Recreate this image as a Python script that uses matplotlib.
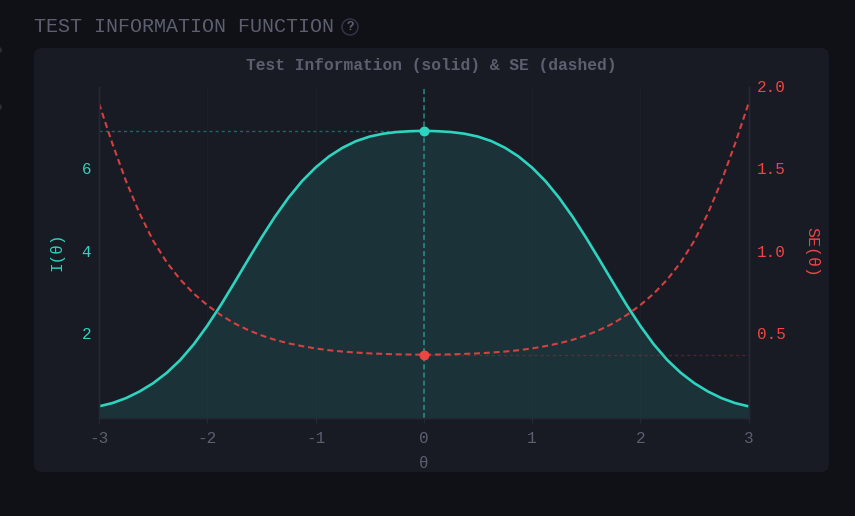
import matplotlib
matplotlib.use('Agg')
import matplotlib.pyplot as plt
from matplotlib.patches import FancyBboxPatch, Circle

W, H = 855, 516

theta = [-3, -2.875, -2.75, -2.625, -2.5, -2.375, -2.25, -2.125, -2, -1.875, -1.75, -1.625, -1.5,
         -1.375, -1.25, -1.125, -1, -0.875, -0.75, -0.625, -0.5, -0.375, -0.25, -0.125, 0,
         0.125, 0.25, 0.375, 0.5, 0.625, 0.75, 0.875, 1, 1.125, 1.25, 1.375, 1.5,
         1.625, 1.75, 1.875, 2, 2.125, 2.25, 2.375, 2.5, 2.625, 2.75, 2.875, 3]
info = [0.27, 0.35, 0.47, 0.63, 0.83, 1.08, 1.39, 1.77, 2.22, 2.72, 3.26, 3.81, 4.35,
        4.86, 5.32, 5.72, 6.05, 6.32, 6.53, 6.69, 6.80, 6.87, 6.91, 6.93, 6.94,
        6.93, 6.91, 6.87, 6.80, 6.69, 6.53, 6.32, 6.05, 5.72, 5.32, 4.86, 4.35,
        3.81, 3.26, 2.72, 2.22, 1.77, 1.39, 1.08, 0.83, 0.63, 0.47, 0.35, 0.27]
se = [1.90, 1.655, 1.43, 1.235, 1.07, 0.94, 0.835, 0.75, 0.68, 0.62, 0.57, 0.53, 0.497,
      0.47, 0.449, 0.432, 0.418, 0.407, 0.399, 0.393, 0.388, 0.385, 0.382, 0.381, 0.38,
      0.381, 0.382, 0.385, 0.388, 0.393, 0.399, 0.407, 0.418, 0.432, 0.449, 0.47, 0.497,
      0.53, 0.57, 0.62, 0.68, 0.75, 0.835, 0.94, 1.07, 1.235, 1.43, 1.655, 1.90]
peak_theta = 0
peak_info = 6.94
peak_se = 0.38
x_ticks = [-3, -2, -1, 0, 1, 2, 3]
info_ticks = [2, 4, 6]
se_ticks = [0.5, 1.0, 1.5, 2.0]

BG = '#0f1117'
CARD = '#181b24'
TEAL = '#2dd4bf'
RED = '#ef4444'
MUTED = '#5c5f6e'
AXIS = '#262934'
MONO = 'Liberation Mono'

fig = plt.figure(figsize=(W / 100, H / 100), dpi=100, facecolor=BG)

# page layer in pixel coordinates
page = fig.add_axes([0, 0, 1, 1])
page.set_xlim(0, W)
page.set_ylim(H, 0)
page.axis('off')
page.add_patch(FancyBboxPatch((42, 56), 779, 408, boxstyle='round,pad=8,rounding_size=8',
                              fc=CARD, ec='none'))
page.add_patch(Circle((-1, 50), 3, fc='#2a2d38', ec='none'))
page.add_patch(Circle((-1, 107), 3, fc='#2a2d38', ec='none'))
page.add_patch(Circle((350, 27), 8, fc='none', ec='#34374a', lw=1))
page.text(350, 27.5, '?', color=MUTED, fontsize=9, fontweight='bold', family=MONO,
          ha='center', va='center')
page.text(34, 27, 'TEST INFORMATION FUNCTION', color=MUTED, fontsize=14.45, family=MONO,
          ha='left', va='center')
page.text(431, 65.5, 'Test Information (solid) & SE (dashed)', color=MUTED, fontsize=11.7,
          fontweight='bold', family=MONO, ha='center', va='center')
page.text(57, 252, 'I(θ)', color=TEAL, fontsize=11.5, family=MONO, rotation=90,
          ha='center', va='center')
page.text(812, 252, 'SE(θ)', color=RED, fontsize=12, family=MONO, rotation=270,
          ha='center', va='center')
page.text(424, 463, 'θ', color=MUTED, fontsize=11.5, family=MONO, ha='center', va='center')

ax = fig.add_axes([99 / W, (H - 417.5) / H, 649.5 / W, 330.5 / H])
ax.patch.set_alpha(0)
ax.set_xlim(-3, 3)
ax.set_ylim(0, 8)

ax.fill_between(theta, info, 0, color=TEAL, alpha=0.13, lw=0)
ax.plot(theta, info, color=TEAL, lw=1.9, solid_capstyle='butt', solid_joinstyle='round')
ax.vlines(x_ticks[1:-1], 0, 8, color='#ffffff', alpha=0.02, lw=0.8)
ax.axvline(peak_theta, color=TEAL, alpha=0.6, lw=1.1, ls=(0, (3.3, 2)))
ax.plot([-3, peak_theta], [peak_info, peak_info], color=TEAL, alpha=0.4, lw=1, ls=(0, (2.2, 2.2)))
ax.plot(peak_theta, peak_info, 'o', color=TEAL, ms=7.2, mec='none', zorder=5)

ax.set_xticks(x_ticks)
ax.set_yticks(info_ticks)
ax.tick_params(axis='x', colors=MUTED, length=3.5, width=0.8, color=AXIS, labelsize=11.5, pad=6)
ax.tick_params(axis='y', length=0, labelsize=11.5, labelcolor=TEAL, pad=5.5)
ax.set_xticklabels([str(t) for t in x_ticks])
for label in ax.get_xticklabels() + ax.get_yticklabels():
    label.set_family(MONO)
for label in ax.get_yticklabels():
    label.set_va('center')

ax2 = ax.twinx()
ax2.set_ylim(0, 2)
ax2.plot(theta, se, color=RED, alpha=0.88, lw=1.5, ls=(0, (2.9, 1.8)))
ax2.plot([peak_theta, 3], [peak_se, peak_se], color=RED, alpha=0.25, lw=1, ls=(0, (2.2, 2.2)))
ax2.plot(peak_theta, peak_se, 'o', color=RED, ms=7.2, mec='none', zorder=5)
ax2.set_yticks(se_ticks)
ax2.set_yticklabels([f'{t:.1f}' for t in se_ticks], family=MONO, va='center')
ax2.tick_params(axis='y', length=0, labelsize=11.5, labelcolor=RED, pad=6)

for a in (ax, ax2):
    a.spines['top'].set_visible(False)
    for side in ('left', 'right', 'bottom'):
        a.spines[side].set_color(AXIS)
        a.spines[side].set_linewidth(1)

fig.savefig('out.png', dpi=100, facecolor=BG)
